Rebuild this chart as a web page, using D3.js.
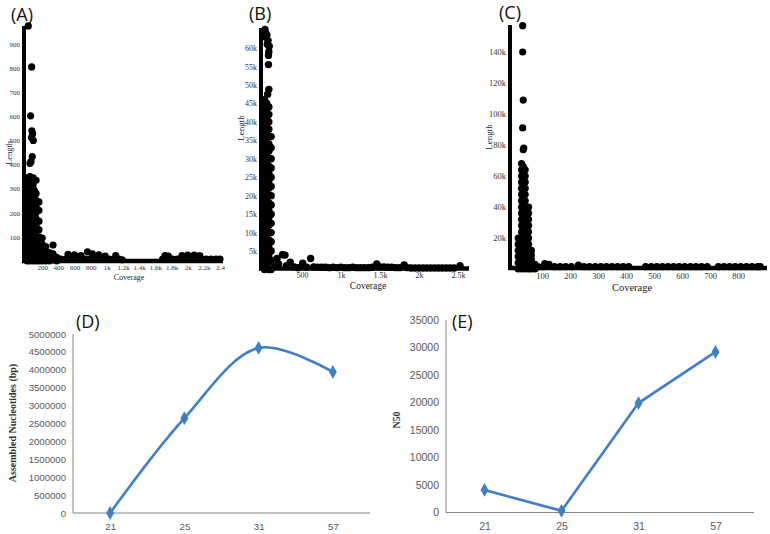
<!DOCTYPE html>
<html>
<head>
<meta charset="utf-8">
<script src="https://cdn.jsdelivr.net/npm/d3@7"></script>
<style>
body { margin: 0; background: #fff; }
svg { display: block; }
</style>
</head>
<body>
<div id="plot"></div>
<script>
var aOutliers = [[28,975],[70,805],[57,602],[72,540],[82,528],[68,512],[90,500],[77,433],[49,405],[62,412]]
var aMass = [
 [15,0],[15,25],[15,50],[15,75],[15,100],[15,125],[15,150],[15,175],[15,200],[15,225],[15,250],[15,275],[15,300],[15,325],[15,345],
 [32,12],[32,37],[32,62],[32,87],[32,112],[32,137],[32,162],[32,187],[32,212],[32,237],[32,262],[32,287],[32,312],[32,337],
 [50,0],[50,25],[50,50],[50,75],[50,100],[50,125],[50,150],[50,175],[50,200],[50,225],[50,250],[50,275],[50,300],[50,325],[50,350],
 [70,12],[70,37],[70,62],[70,87],[70,112],[70,137],[70,162],[70,187],[70,212],[70,237],[70,262],[70,287],[70,312],[70,340],
 [90,0],[90,25],[90,50],[90,75],[90,100],[90,125],[90,150],[90,175],[90,200],[90,225],[90,250],[90,275],[90,300],[90,320],[90,345],
 [108,12],[108,37],[108,62],[108,87],[108,112],[108,137],[108,162],[108,187],[108,212],[108,237],[108,262],[108,290],
 [125,0],[125,25],[125,50],[125,75],[125,100],[125,125],[125,150],[125,175],[125,200],[125,225],[125,250],[125,280],[125,335],
 [160,0],[160,25],[160,50],[160,75],[160,100],[160,130],[160,165],[160,210],[160,245],
 [200,0],[200,20],[200,45],[200,70],[200,95],
 [245,0],[245,20],[245,40],[245,60],
 [290,0],[290,15],[290,35],
 [335,5],[335,30],[335,66],
 [380,0],[380,15]]
var aBase = [
 [430,8],[490,8],[520,28],[550,8],[600,25],[610,8],[670,8],[680,22],[730,8],[760,38],[790,8],[820,30],[850,8],[900,25],[910,8],
 [970,8],[980,20],[1030,8],[1090,8],[1110,22],[1150,8],[1190,5],[1690,8],[1720,22],[1750,8],[1760,20],[1810,8],[1870,8],
 [1930,22],[1990,8],[2000,24],[2050,8],[2080,24],[2110,8],[2150,22],[2170,8],[2230,8],[2290,8],[2350,8],[2400,8]]

var bTop = [[25,65000],[50,63500],[30,63000],[55,61000],[65,62000],[80,60500],[75,59000],[70,58000],[70,55500],[75,48800],[60,47500],[35,64000]]
var bColumn = [
 [20,0],[20,2000],[20,4000],[20,6000],[20,8000],[20,10000],[20,12000],[20,14000],[20,16000],[20,18000],[20,20000],[20,22000],
 [20,24000],[20,26000],[20,28000],[20,30000],[20,32000],[20,34000],[20,36000],[20,38000],[20,40000],[20,42000],[20,44000],[20,46000],
 [48,1000],[48,3000],[48,5000],[48,7000],[48,9000],[48,11000],[48,13000],[48,15000],[48,17000],[48,19000],[48,21000],[48,23000],
 [48,25000],[48,27000],[48,29000],[48,31000],[48,33000],[48,35000],[48,37000],[48,39000],[48,41000],[48,43000],[48,45000],
 [75,0],[75,2000],[75,4000],[75,6000],[75,8000],[75,10000],[75,12000],[75,14000],[75,16000],[75,18000],[75,20000],[75,22000],
 [75,24000],[75,26000],[75,28000],[75,30000],[75,32000],[75,34000],[75,36000],[75,38000],[75,40000],[75,42000],[75,44000],
 [105,0],[105,2500],[105,5000],[105,7500],[105,10000],[105,12500],[105,15000],[105,17500],[105,20000],[105,22500],
 [105,25000],[105,27500],[105,30000],[105,33000],[105,36000]]
var bBase = [
 [150,1000],[180,3000],[200,1500],[250,4000],[282,3900],[300,1000],[350,2000],[400,700],[450,500],[509,1700],[560,600],[611,3000],
 [650,700],[700,600],[750,600],[800,600],[850,500],[900,600],[950,500],[1000,600],[1050,500],[1100,500],[1150,600],[1200,500],
 [1250,500],[1300,500],[1350,500],[1400,600],[1458,1500],[1500,700],[1550,700],[1600,600],[1650,600],[1700,500],[1750,500],
 [1810,1200],[1850,500],[1900,400],[1950,400],[2000,400],[2050,400],[2100,400],[2150,400],[2200,400],[2250,400],[2300,400],
 [2350,400],[2400,400],[2450,400],[2526,1000]]

var cOutliers = [[31,157000],[31,140000],[33,109000],[31,91000],[33,77000],[35,78000]]
var cColumn = [
 [27,0],[27,4000],[27,8000],[27,12000],[27,16000],[27,20000],[27,24000],[27,28000],[27,32000],[27,36000],[27,40000],[27,44000],
 [27,48000],[27,52000],[27,56000],[27,60000],[27,64000],[27,68000],
 [33,2000],[33,6000],[33,10000],[33,14000],[33,18000],[33,22000],[33,26000],[33,30000],[33,34000],[33,38000],[33,42000],
 [33,46000],[33,50000],[33,54000],[33,58000],[33,62000],[33,66000],
 [40,0],[40,4000],[40,8000],[40,12000],[40,16000],[40,20000],[40,24000],[40,28000],[40,32000],[40,36000],[40,40000],[40,44000],
 [40,48000],[40,52000],[40,56000],[40,60000],[40,64000],
 [15,0],[15,4000],[15,8000],[15,12000],[15,16000],[15,20000],
 [52,0],[52,4000],[52,8000],[52,12000],[52,16000],[52,20000],[52,24000],[52,28000],[52,32000],[52,36000],[52,40000],
 [62,0],[62,3000],[62,6000],[62,9000],[62,12000],[75,0],[75,3000]]
var cBase = [
 [85,1500],[105,1500],[110,3500],[125,3000],[145,1500],[165,1500],[185,1500],[205,1500],[230,2500],[250,1500],[270,1500],
 [290,1500],[310,1500],[330,1500],[350,1500],[370,1500],[390,1500],[410,1500],[470,1500],[490,1500],[510,1500],[530,1500],
 [550,1500],[570,1500],[590,1500],[610,1500],[630,1500],[650,1500],[670,1500],[690,1500],[730,1500],[750,1500],[770,1500],
 [790,1500],[810,1500],[830,1500],[850,1500],[870,1500],[880,1500]]

var aXTicks = [200,400,600,800,1000,1200,1400,1600,1800,2000,2200,2400]
var aXLabels = ["200","400","600","800","1k","1.2k","1.4k","1.6k","1.8k","2k","2.2k","2.4"]
var aYTicks = [100,200,300,400,500,600,700,800,900]
var bXTicks = [500,1000,1500,2000,2500]
var bXLabels = ["500","1k","1.5k","2k","2.5k"]
var bYTicks = [5000,10000,15000,20000,25000,30000,35000,40000,45000,50000,55000,60000]
var cXTicks = [100,200,300,400,500,600,700,800]
var cYTicks = [20000,40000,60000,80000,100000,120000,140000]

// ---- line chart data: k-mer vs assembly stats ----
var kmers = ["21","25","31","57"]
var assembled = [0, 2650000, 4610000, 3940000]
var n50 = [4100, 300, 19900, 29200]

var svg = d3.select('#plot').append('svg')
	.attr('width', 770)
	.attr('height', 534)
	.style('font-family', 'Liberation Serif')

function kfmt(v){ return v >= 1000 ? (v/1000) + 'k' : String(v) }

function scatterPanel(p){
	var x = d3.scaleLinear().domain(p.xDomain).range(p.xRange)
	var y = d3.scaleLinear().domain(p.yDomain).range(p.yRange)
	var g = svg.append('g')
	// points
	g.selectAll('circle').data(p.points).enter().append('circle')
		.attr('cx', function(d){ return x(d[0]) })
		.attr('cy', function(d){ return y(d[1]) })
		.attr('r', p.r)
		.attr('fill', '#000')
	// heavy axis lines
	g.append('line').attr('x1', p.axisX).attr('x2', p.axisX).attr('y1', p.axisTop).attr('y2', p.axisY + 2)
		.attr('stroke', '#000').attr('stroke-width', 4)
	g.append('line').attr('x1', p.axisX - 2).attr('x2', p.axisRight).attr('y1', p.axisY).attr('y2', p.axisY)
		.attr('stroke', '#000').attr('stroke-width', 4.5)
	// tick labels
	var yax = d3.axisLeft(y).tickValues(p.yTicks).tickFormat(kfmt).tickSize(0).tickPadding(0)
	var gy = g.append('g').attr('transform', 'translate(' + (p.axisX - 4) + ',0)').call(yax)
	gy.select('.domain').remove()
	gy.selectAll('text').attr('font-family', 'Liberation Serif').attr('font-size', p.tickSize).attr('fill', '#333')
	var xax = d3.axisBottom(x).tickValues(p.xTicks).tickFormat(function(d, i){ return p.xLabels[i] }).tickSize(0).tickPadding(0)
	var gx = g.append('g').attr('transform', 'translate(0,' + p.xLabelY + ')').call(xax)
	gx.select('.domain').remove()
	gx.selectAll('text').attr('font-family', 'Liberation Serif').attr('font-size', p.tickSize).attr('fill', '#333')
	// titles
	g.append('text').attr('x', p.covX).attr('y', p.covY).attr('text-anchor', 'middle')
		.attr('font-size', p.covSize).attr('fill', '#222').text('Coverage')
	g.append('text').attr('transform', 'translate(' + p.lenX + ',' + p.lenY + ') rotate(-90)')
		.attr('text-anchor', 'middle').attr('font-size', p.lenSize).attr('fill', '#222').text('Length')
	svg.append('text').attr('x', p.tagX).attr('y', p.tagY)
		.attr('font-family', 'Open Sans').attr('font-size', 18).attr('fill', '#111').text(p.tag)
}

scatterPanel({
	points: aMass.concat(aBase, aOutliers),
	xDomain: [0, 2400], xRange: [26, 220], yDomain: [0, 900], yRange: [261, 44], r: 3.6,
	axisX: 24, axisTop: 26, axisY: 261, axisRight: 223,
	yTicks: aYTicks, xTicks: aXTicks, xLabels: aXLabels, tickSize: 7, xLabelY: 265,
	covX: 129, covY: 280, covSize: 8, lenX: 12, lenY: 153, lenSize: 8.5,
	tag: '(A)', tagX: 11, tagY: 21
})
scatterPanel({
	points: bColumn.concat(bBase, bTop),
	xDomain: [0, 2500], xRange: [263, 458], yDomain: [0, 60000], yRange: [269.5, 48], r: 3.7,
	axisX: 261, axisTop: 28, axisY: 268.5, axisRight: 469,
	yTicks: bYTicks, xTicks: bXTicks, xLabels: bXLabels, tickSize: 8, xLabelY: 272,
	covX: 368, covY: 289, covSize: 9.5, lenX: 244, lenY: 128, lenSize: 9,
	tag: '(B)', tagX: 249, tagY: 20
})
scatterPanel({
	points: cColumn.concat(cBase, cOutliers),
	xDomain: [0, 800], xRange: [514, 738], yDomain: [0, 140000], yRange: [269, 52], r: 3.6,
	axisX: 510, axisTop: 25, axisY: 268, axisRight: 767,
	yTicks: cYTicks, xTicks: cXTicks, xLabels: cXTicks.map(String), tickSize: 8.5, xLabelY: 273,
	covX: 632, covY: 291, covSize: 10.5, lenX: 492, lenY: 137, lenSize: 9,
	tag: '(C)', tagX: 499, tagY: 19
})

// ---- line panels D and E ----
var blue = '#3f7fca'

function linePanel(p){
	var x = d3.scalePoint().domain(kmers).range(p.xRange).padding(0.5)
	var y = d3.scaleLinear().domain(p.yDomain).range(p.yRange)
	var g = svg.append('g')
	g.append('line').attr('x1', p.xRange[0]).attr('x2', p.xRange[0]).attr('y1', p.yRange[1]).attr('y2', p.yRange[0])
		.attr('stroke', '#868686').attr('stroke-width', 1)
	g.append('line').attr('x1', p.xRange[0]).attr('x2', p.xRange[1]).attr('y1', p.yRange[0]).attr('y2', p.yRange[0])
		.attr('stroke', '#868686').attr('stroke-width', 1)
	var yax = d3.axisLeft(y).tickValues(d3.range(p.yDomain[0], p.yDomain[1] + 1, p.step)).tickFormat(d3.format('d')).tickSize(0).tickPadding(7)
	var gy = g.append('g').attr('transform', 'translate(' + p.xRange[0] + ',0)').call(yax)
	gy.select('.domain').remove()
	gy.selectAll('text').attr('font-family', 'Liberation Sans').attr('font-size', p.tickSize).attr('fill', '#595959')
	var xax = d3.axisBottom(x).tickSize(0).tickPadding(10)
	var gx = g.append('g').attr('transform', 'translate(0,' + p.yRange[0] + ')').call(xax)
	gx.select('.domain').remove()
	gx.selectAll('text').attr('font-family', 'Liberation Sans').attr('font-size', p.tickSize).attr('fill', '#595959')
	var line = d3.line()
		.x(function(d, i){ return x(kmers[i]) })
		.y(function(d){ return y(d) })
		.curve(p.curve)
	g.append('path').datum(p.values).attr('d', line)
		.attr('fill', 'none').attr('stroke', blue).attr('stroke-width', 2.6)
	g.selectAll('.mk').data(p.values).enter().append('path')
		.attr('transform', function(d, i){ return 'translate(' + x(kmers[i]) + ',' + y(d) + ')' })
		.attr('d', d3.symbol().type(d3.symbolDiamond).size(55))
		.attr('fill', blue)
	g.append('text').attr('transform', 'translate(' + p.titleX + ',' + p.titleY + ') rotate(-90)')
		.attr('text-anchor', 'middle').attr('font-family', 'Liberation Serif').attr('font-weight', 'bold')
		.attr('font-size', 10).attr('fill', '#333').text(p.title)
	svg.append('text').attr('x', p.tagX).attr('y', p.tagY)
		.attr('font-family', 'Open Sans').attr('font-size', 18).attr('fill', '#111').text(p.tag)
}

linePanel({
	values: assembled, xRange: [73, 370], yDomain: [0, 5000000], yRange: [513, 334], step: 500000,
	tickSize: 9.6, curve: d3.curveCatmullRom, title: 'Assembled Nucleotides (bp)', titleX: 16, titleY: 423,
	tag: '(D)', tagX: 76, tagY: 328
})
linePanel({
	values: n50, xRange: [446, 754], yDomain: [0, 35000], yRange: [512.5, 320], step: 5000,
	tickSize: 10.5, curve: d3.curveLinear, title: 'N50', titleX: 400, titleY: 420,
	tag: '(E)', tagX: 452, tagY: 328
})
</script>
</body>
</html>
